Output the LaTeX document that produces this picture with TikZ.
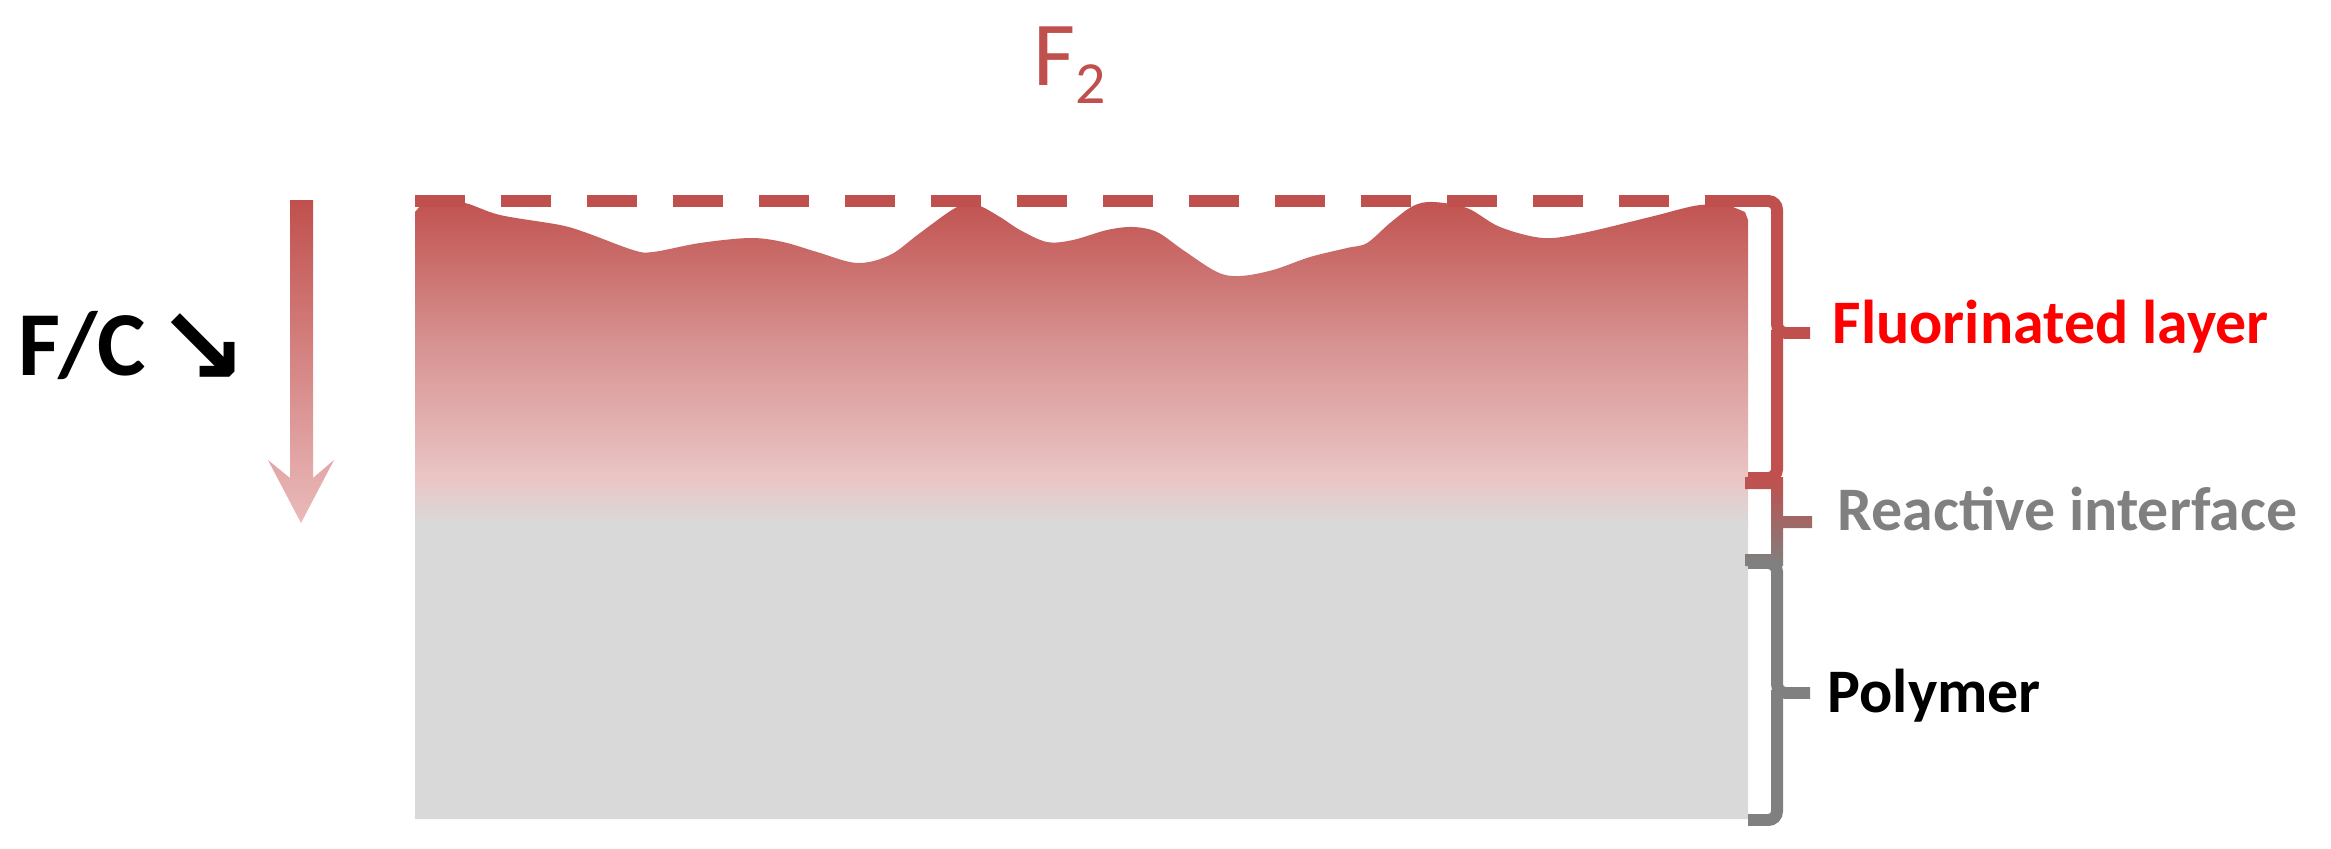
\documentclass[tikz,border=0pt]{standalone}
\usepackage{fontspec}
\setmainfont{Carlito}
\newfontfamily\arrowfont{DejaVu Sans}
\definecolor{redA}{RGB}{192,80,77}
\definecolor{redMid}{RGB}{214,145,144}
\definecolor{pinkA}{RGB}{235,198,198}
\definecolor{grayA}{RGB}{217,217,217}
\definecolor{arrowEnd}{RGB}{234,186,186}
\definecolor{labelRed}{RGB}{255,0,0}
\definecolor{labelGray}{RGB}{128,128,128}
\definecolor{braceGray}{RGB}{128,128,128}
\tikzset{
  lbl/.style={anchor=base west, inner sep=0pt, font=\fontsize{17.6}{20}\selectfont\bfseries},
  bracebar/.style={line width=3.4pt, rounded corners=2.5pt},
}
\begin{document}
\begin{tikzpicture}[x=0.01cm, y=-0.01cm]
\useasboundingbox (0,0) rectangle (2331,848);

% ---- layered block with wavy fluorinated surface ----
\begin{scope}
\clip (415,819) -- (415,212) -- (420,206)
  -- plot[smooth, tension=0.55] coordinates {
    (440,203) (465,203) (500,215) (560,225) (587,233) (633,250) (653,252)
    (700,243) (750,238) (783,242) (817,252) (857,263) (890,255) (920,233)
    (957,207) (977,205) (1000,217) (1020,230) (1047,242) (1073,240)
    (1107,230) (1133,227) (1157,232) (1183,250) (1217,272) (1240,276)
    (1273,270) (1310,257) (1347,248) (1367,243) (1390,223) (1413,206)
    (1433,202) (1467,208) (1500,227) (1543,238) (1583,233) (1650,217)
    (1700,205) (1733,207) }
  -- (1745,212) -- (1748,220) -- (1748,819) -- cycle;
\shade[top color=redA, bottom color=redMid] (410,195) rectangle (1752,341);
\shade[top color=redMid, bottom color=pinkA] (410,340) rectangle (1752,481);
\shade[top color=pinkA, bottom color=grayA] (410,480) rectangle (1752,523);
\fill[grayA] (410,522) rectangle (1752,822);
\end{scope}

% ---- dashed F2 front ----
\coordinate (dashL) at (415,201);
\coordinate (dashR) at (1750,201);
\draw[redA, line width=3.4pt, dash pattern=on 14.23pt off 10.23pt] (dashL) -- (dashR);

% ---- F2 label ----
\node[anchor=base west, inner sep=0pt, text=redA,
      font=\fontsize{26}{30}\selectfont] (f2) at (1033,85)
  {F\raisebox{-5.2pt}{\fontsize{17}{20}\selectfont 2}};

% ---- F/C label ----
\node[anchor=base west, inner sep=0pt,
      font=\fontsize{26}{30}\selectfont\bfseries] (fc) at (18,375)
  {F/C\hspace{0.12em}\raisebox{-2.6pt}{\arrowfont\fontsize{31}{34}\selectfont\bfseries ↘}};

% ---- gradient arrow ----
\shade[top color=redA, bottom color=arrowEnd]
  (290,200) -- (313,200) -- (313,478) -- (334,460) -- (301,523)
  -- (268,460) -- (290,478) -- cycle;

% ---- braces ----
\coordinate (fTip) at (1810,333);
\coordinate (rTip) at (1810,522);
\coordinate (pTip) at (1810,693);
\draw[bracebar, redA] (1748,201) -- (1777,201) -- (1777,333) -- (fTip);
\draw[bracebar, redA] (1777,330) -- (1777,478) -- (1748,478);

\shade[top color=redA, bottom color=braceGray]
  (1745,477) rectangle (1783,489)
  (1771,477) rectangle (1783,566)
  (1771,516) rectangle (1812,528)
  (1745,554) rectangle (1783,566);

\draw[bracebar, braceGray] (1748,563) -- (1777,563) -- (1777,693) -- (pTip);
\draw[bracebar, braceGray] (1777,690) -- (1777,820) -- (1748,820);

% ---- labels ----
\node[lbl, text=labelRed] (fl) at (1832,343) {Fluorinated layer};
\node[lbl, text=labelGray] (ri) at (1837,530) {Reactive interface};
\node[lbl, text=black] (po) at (1827,712) {Polymer};
\end{tikzpicture}
\end{document}
